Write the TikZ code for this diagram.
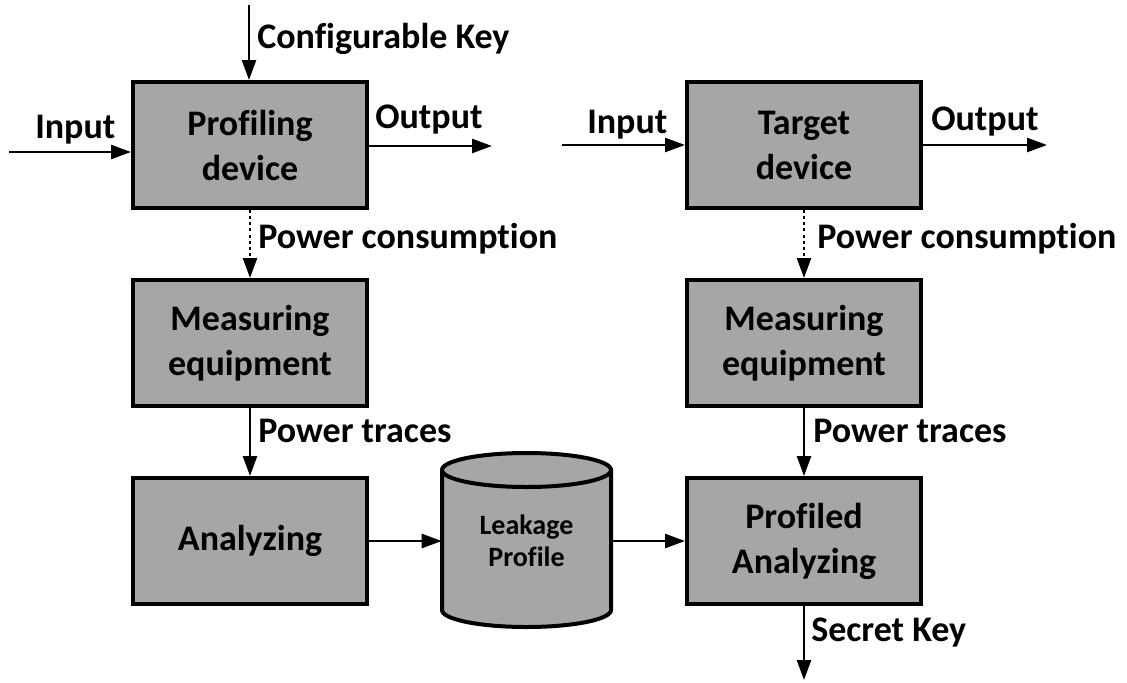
\documentclass[tikz,border=0pt]{standalone}
\usepackage{fontspec}
\setmainfont{Carlito}[Ligatures=NoCommon]
\usetikzlibrary{arrows.meta}
\definecolor{boxgray}{HTML}{A6A6A6}
\tikzset{
  blockbox/.style={draw=black, fill=boxgray, line width=3pt,
    minimum width=175.5pt, minimum height=94.5pt, align=center,
    font=\fontsize{27}{33.75}\selectfont\bfseries, inner sep=0pt},
  arr/.style={line width=1.9pt, -{Triangle[length=15pt,width=10.5pt]}},
  dotarr/.style={arr, dash pattern=on 2.3pt off 2.3pt},
  lbl/.style={anchor=base west, inner sep=0pt,
    font=\fontsize{27}{30}\selectfont\bfseries},
}
\begin{document}
\begin{tikzpicture}[x=0.75pt, y=0.75pt]
\useasboundingbox (0,0) rectangle (1127,-682);

% ---- profiling chain
\node[blockbox] (pd)  at (250,-145) {Profiling\\device};
\node[blockbox] (me1) at (250,-343) {Measuring\\equipment};
\node[blockbox] (ana) at (250,-541) {Analyzing};

% ---- attack chain
\node[blockbox] (td)  at (804,-145) {Target\\device};
\node[blockbox] (me2) at (804,-343) {Measuring\\equipment};
\node[blockbox] (pa)  at (804,-541) {Profiled\\Analyzing};

% ---- leakage profile database
\begin{scope}[line width=3pt]
  \fill[boxgray] (526.5,-610) ellipse[x radius=84.5, y radius=17];
  \fill[boxgray] (442,-470) rectangle (611,-610);
  \draw (442,-470) -- (442,-610)
        arc[start angle=180, end angle=360, x radius=84.5, y radius=17]
        -- (611,-470);
  \draw[fill=boxgray] (526.5,-470) ellipse[x radius=84.5, y radius=17];
\end{scope}
\node[minimum width=126.75pt, minimum height=105pt, inner sep=0pt,
  align=center, font=\fontsize{21}{24}\selectfont\bfseries]
  (cyl) at (526.5,-541) {Leakage\\Profile};

% ---- free ends of the outer connectors
\coordinate (keyin) at (249,-5);
\coordinate (inL)   at (9,-152);
\coordinate (outL)  at (492,-146);
\coordinate (inR)   at (562,-145);
\coordinate (outR)  at (1047,-145);
\coordinate (keyout) at (804,-680);

% ---- connectors
\draw[arr] (keyin) -- (keyin |- pd.north);
\draw[arr] (inL) -- (inL -| pd.west);
\draw[arr] (pd.east |- outL) -- (outL);
\draw[dotarr] (pd.south) -- (me1.north);
\draw[arr] (me1.south) -- (ana.north);
\draw[arr] (ana.east) -- (cyl.west);
\draw[arr] (cyl.east) -- (pa.west);

\draw[arr] (inR) -- (inR -| td.west);
\draw[arr] (td.east |- outR) -- (outR);
\draw[dotarr] (td.south) -- (me2.north);
\draw[arr] (me2.south) -- (pa.north);
\draw[arr] (pa.south) -- (keyout);

% ---- labels
\node[lbl] (lkey)  at (257,-48)  {Configurable Key};
\node[lbl] (linL)  at (35,-138)  {Input};
\node[lbl] (loutL) at (375,-128) {Output};
\node[lbl] (lpc1)  at (258,-248) {Power consumption};
\node[lbl] (lpt1)  at (258,-442) {Power traces};
\node[lbl] (linR)  at (587,-133) {Input};
\node[lbl] (loutR) at (931,-130) {Output};
\node[lbl] (lpc2)  at (817,-248) {Power consumption};
\node[lbl] (lpt2)  at (813,-442) {Power traces};
\node[lbl] (lsk)   at (811,-641) {Secret Key};
\end{tikzpicture}
\end{document}
